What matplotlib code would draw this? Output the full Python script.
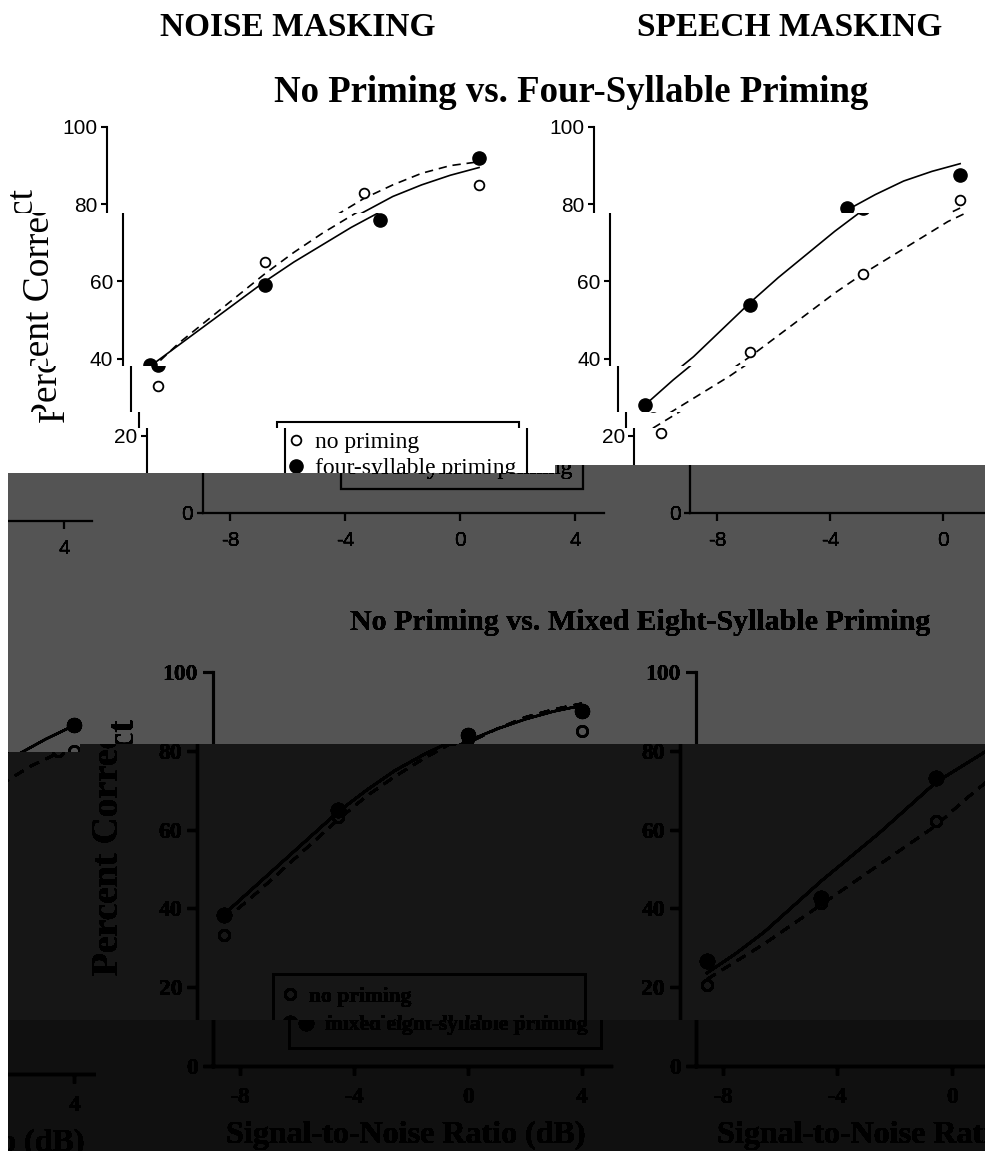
import numpy as np
import matplotlib
matplotlib.use("Agg")
import matplotlib.pyplot as plt
from matplotlib.lines import Line2D

SERIF = "Liberation Serif"
SANS = "Liberation Sans"

snr = [-8, -4, 0, 4]
fit_snr = [-8, -7, -6, -5, -4, -3, -2, -1, 0, 1, 2, 3, 4]
snr_ticks = [-8, -4, 0, 4]
pc_ticks = [0, 20, 40, 60, 80, 100]

# no priming vs four-syllable priming
noise_none_4 = [33, 65, 83, 85]
noise_four = [38.3, 59, 76, 92]
noise_none_4_fit = [37, 44, 50, 56, 62, 67.5, 72.5, 77, 81.5, 85, 88, 90, 91]
noise_four_fit = [38, 43.5, 49, 54.5, 60, 65, 69.5, 74, 78, 82, 85, 87.5, 89.5]
speech_none_4 = [20.7, 41.7, 62, 81]
speech_four = [28, 54, 79, 87.5]
speech_none_4_fit = [22, 26.5, 31, 35.5, 40.5, 46, 51.5, 57, 62, 66.5, 71, 75.5, 79]
speech_four_fit = [28, 34.5, 40.5, 47.5, 54.5, 61, 67, 73, 78.5, 82.5, 86, 88.5, 90.5]

# no priming vs mixed eight-syllable priming
noise_none_8 = [33.2, 63.2, 83, 85]
noise_mixed = [38.3, 65, 84, 90]
noise_none_8_fit = [37, 43, 49.5, 56, 62.5, 68.5, 73.5, 78, 82, 85.5, 88.5, 90.5, 92]
noise_mixed_fit = [38.5, 45, 51.5, 58, 64.5, 70, 75, 79, 82.5, 85.5, 88, 90, 91.5]
speech_none_8 = [20.6, 41.4, 62.2, 82]
speech_mixed = [26.6, 42.6, 73, 88.5]
speech_none_8_fit = [22, 26.5, 31, 36, 41, 46, 51, 56, 61, 67.5, 73.5, 78, 81.5]
speech_mixed_fit = [23.6, 28.5, 34, 40.5, 47, 53, 59, 65.5, 72, 76.5, 81, 85, 88.5]

W, H = 992, 1151


def frac(x, y):
    return x / W, 1 - y / H


def make_axes(fig, left, right, top, bottom):
    return fig.add_axes([left / W, 1 - bottom / H, (right - left) / W, (bottom - top) / H])


def draw_panel(ax, none_pts, prim_pts, none_fit, prim_fit, bold):
    lw = 1.8 if bold else 1.2
    dash = (0, (4, 3)) if bold else (0, (5, 3.5))
    ax.plot(fit_snr, none_fit, color="black", ls=dash, lw=lw)
    ax.plot(fit_snr, prim_fit, color="black", ls="-", lw=lw)
    ax.plot(snr, none_pts, ls="none", marker="o", mfc="white", mec="black",
            ms=7.5 if bold else 7, mew=1.8 if bold else 1.3, zorder=3)
    ax.plot(snr, prim_pts, ls="none", marker="o", mfc="black", mec="black",
            ms=10 if bold else 9.5, zorder=3)
    ax.set_xlim(-8.95, 5)
    ax.set_ylim(0, 100)
    for s in ["top", "right"]:
        ax.spines[s].set_visible(False)
    for s in ["left", "bottom"]:
        ax.spines[s].set_linewidth(2.2 if bold else 1.5)
    ax.set_xticks(snr_ticks)
    ax.set_yticks(pc_ticks)
    if bold:
        font = dict(fontfamily=SERIF, fontsize=17, fontweight="bold")
        ax.tick_params(axis="x", length=6.5, width=2.2, pad=8.5)
        ax.tick_params(axis="y", length=7.2, width=2.2, pad=3.6)
    else:
        font = dict(fontfamily=SANS, fontsize=15)
        ax.tick_params(axis="x", length=5.8, width=1.5, pad=7)
        ax.tick_params(axis="y", length=4.3, width=1.5, pad=2.5)
    ax.set_xticklabels([str(t) for t in snr_ticks], **font)
    ax.set_yticklabels([str(t) for t in pc_ticks], **font)


def add_legend(ax, labels, anchor, bold):
    handles = [
        Line2D([], [], ls="none", marker="o", mfc="white", mec="black",
               ms=7.5 if bold else 7, mew=1.8 if bold else 1.3),
        Line2D([], [], ls="none", marker="o", mfc="black", mec="black",
               ms=10 if bold else 9.5),
    ]
    prop = {"family": SERIF, "size": 15.5 if bold else 17, "weight": "bold" if bold else "normal"}
    leg = ax.legend(handles, labels, loc="upper left", bbox_to_anchor=anchor,
                    bbox_transform=ax.transData, borderaxespad=0,
                    borderpad=0.6 if bold else 0.42,
                    handlelength=0.36 if bold else 0.12,
                    handletextpad=0.72 if bold else 0.76,
                    labelspacing=0.4 if bold else 0.17,
                    frameon=True, fancybox=False, framealpha=1,
                    edgecolor="black", facecolor="white", prop=prop)
    leg.get_frame().set_linewidth(2.0 if bold else 1.5)


fig = plt.figure(figsize=(W / 100, H / 100), dpi=100)

ax1 = make_axes(fig, 106.7, 507.8, 127, 513)
ax2 = make_axes(fig, 594.2, 988.4, 127, 513)
ax3 = make_axes(fig, 117, 514.5, 672, 1066)
ax4 = make_axes(fig, 599.8, 999, 672, 1066)

draw_panel(ax1, noise_none_4, noise_four, noise_none_4_fit, noise_four_fit, False)
draw_panel(ax2, speech_none_4, speech_four, speech_none_4_fit, speech_four_fit, False)
draw_panel(ax3, noise_none_8, noise_mixed, noise_none_8_fit, noise_mixed_fit, True)
draw_panel(ax4, speech_none_8, speech_mixed, speech_none_8_fit, speech_mixed_fit, True)

add_legend(ax1, ["no priming", "four-syllable priming"], (-4.15, 23.6), False)
add_legend(ax3, ["no priming", "mixed eight-syllable priming"], (-6.28, 23.4), True)

fig.text(*frac(298, 28), "NOISE MASKING", family=SERIF, weight="bold", size=24,
         ha="center", va="center")
fig.text(*frac(790, 28), "SPEECH MASKING", family=SERIF, weight="bold", size=24,
         ha="center", va="center")
fig.text(*frac(571, 93), "No Priming vs. Four-Syllable Priming", family=SERIF,
         weight="bold", size=26.5, ha="center", va="center")
fig.text(*frac(544, 622), "No Priming vs. Mixed Eight-Syllable Priming", family=SERIF,
         weight="bold", size=21.5, ha="center", va="center")
fig.text(*frac(24, 306), "Percent Correct", family=SERIF, size=27, rotation=90,
         ha="center", va="center")
fig.text(*frac(29, 847), "Percent Correct", family=SERIF, weight="bold", size=27,
         rotation=90, ha="center", va="center")
fig.text(*frac(310, 1135), "Signal-to-Noise Ratio (dB)", family=SERIF, weight="bold",
         size=23, ha="center", va="center")
fig.text(*frac(801, 1135), "Signal-to-Noise Ratio (dB)", family=SERIF, weight="bold",
         size=23, ha="center", va="center")

fig.canvas.draw()
clean = np.asarray(fig.canvas.buffer_rgba())[:, :, 0].astype(int)
plt.close(fig)

# corrupted-jpeg look: each band of 8px blocks is shifted right and darkened
# (row_start, col_start, shift, darken)
bands = [
    (0, 0, 0, 0),
    (213, 0, 16, 0),
    (366, 0, 24, 0),
    (412, 0, 32, 0),
    (428, 0, 40, 0),
    (465, 555, 96, 171),
    (744, 80, 80, 233),
    (1020, 0, 96, 239),
]

band_idx = np.zeros((H, W), dtype=int)
for i, (r, c, s, d) in enumerate(bands):
    band_idx[r:r + 8, c:] = i
    band_idx[r + 8:, :] = i


def shifted(src, s):
    if s == 0:
        return src.copy()
    out = np.full_like(src, 255)
    out[:, s:] = src[:, :-s]
    out[8:, :s] = src[:-8, -s:]
    return out


glitched = np.zeros_like(clean)
for i, (r, c, s, d) in enumerate(bands):
    layer = np.clip(shifted(clean, s) - d, 0, 255)
    glitched = np.where(band_idx == i, layer, glitched)
glitched[473:, :8] = 255

final = glitched[:, :985].astype(np.uint8)
fig2 = plt.figure(figsize=(9.85, 11.51), dpi=100)
fig2.figimage(final, cmap="gray", vmin=0, vmax=255, origin="upper")
fig2.savefig("out.png", dpi=100)
